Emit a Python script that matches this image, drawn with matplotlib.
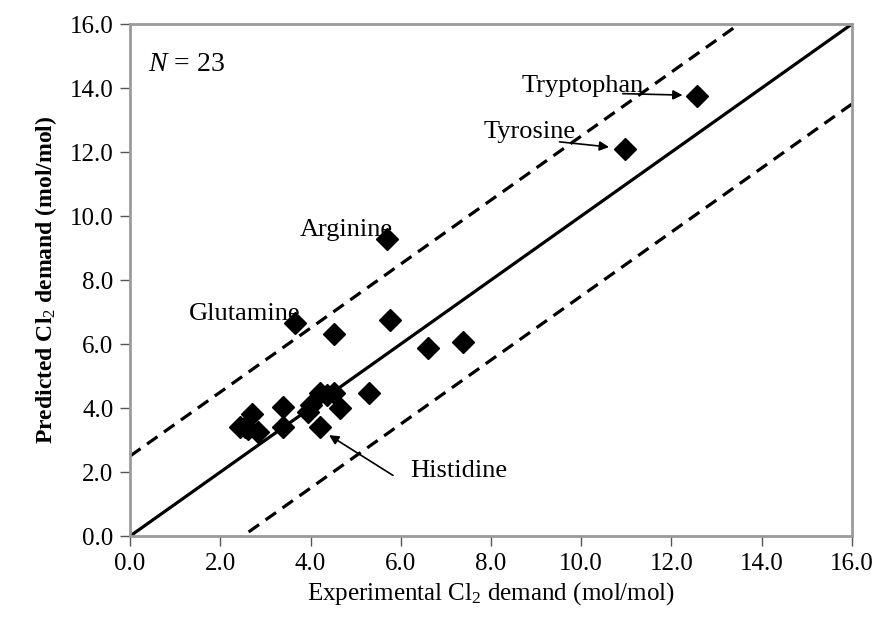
import matplotlib
matplotlib.use("Agg")
import matplotlib.pyplot as plt
import numpy as np

plt.rcParams['font.family'] = ['Liberation Serif', 'DejaVu Serif']
plt.rcParams['mathtext.fontset'] = 'custom'
plt.rcParams['mathtext.rm'] = 'Liberation Serif'
plt.rcParams['mathtext.it'] = 'Liberation Serif:italic'
plt.rcParams['mathtext.bf'] = 'Liberation Serif:bold'

# Experimental vs predicted Cl2 demand (mol/mol)
experimental = [2.44, 2.55, 2.62, 2.70, 2.84, 3.40, 3.40, 3.95, 4.02, 4.21, 4.51,
                4.21, 4.66, 5.30, 3.66, 4.51, 5.76, 6.61, 7.39, 5.69, 10.98, 12.56, 4.36]
predicted = [3.42, 3.40, 3.35, 3.83, 3.26, 4.04, 3.42, 3.88, 4.10, 4.46, 4.46,
             3.42, 3.99, 4.46, 6.65, 6.33, 6.75, 5.87, 6.07, 9.30, 12.10, 13.75, 4.40]
offset = 2.5
line_x = [0.0, 16.0]
ticks = [0, 2, 4, 6, 8, 10, 12, 14, 16]
tick_labels = [f"{t:.1f}" for t in ticks]

fig = plt.figure(figsize=(8.79, 6.19), dpi=100)
ax = fig.add_axes([0.148, 0.134, 0.821, 0.827])

lx = np.array(line_x)
ax.plot(lx, lx, color='black', lw=2.3, solid_capstyle='butt', zorder=2)
ax.plot(lx, lx + offset, color='black', lw=2.3, linestyle=(0, (4, 2.5)), zorder=2)
ax.plot(lx, lx - offset, color='black', lw=2.3, linestyle=(0, (4, 2.5)), zorder=2)
ax.plot(experimental, predicted, linestyle='none', marker='D', color='black',
        markersize=11, zorder=3)

ax.set_xlim(0, 16)
ax.set_ylim(0, 16)
ax.set_xticks(ticks)
ax.set_yticks(ticks)
ax.set_xticklabels(tick_labels)
ax.set_yticklabels(tick_labels)
ax.tick_params(labelsize=18, direction='out', length=7, width=1, color='#555555', pad=5)
for s in ax.spines.values():
    s.set_color('#9a9a9a')
    s.set_linewidth(2)

ax.set_xlabel(r'Experimental Cl$_2$ demand (mol/mol)', fontsize=18, labelpad=4)
ax.set_ylabel(r'Predicted Cl$_2$ demand (mol/mol)', fontsize=17, fontweight='bold', labelpad=8)

ax.text(0.4, 14.53, r'$N$ = 23', fontsize=20, ha='left', va='baseline')

fs = 19
ax.text(3.77, 9.375, 'Arginine', fontsize=fs, ha='left', va='baseline')
ax.text(3.77, 6.75, 'Glutamine', fontsize=fs, ha='right', va='baseline')

arrowprops = dict(arrowstyle='-|>', color='black', lw=1.2, mutation_scale=14)
ax.text(8.67, 13.88, 'Tryptophan', fontsize=fs, ha='left', va='baseline')
ax.annotate('', xy=(12.31, 13.78), xytext=(10.86, 13.83), arrowprops=arrowprops)
ax.text(9.87, 12.43, 'Tyrosine', fontsize=fs, ha='right', va='baseline')
ax.annotate('', xy=(10.68, 12.15), xytext=(9.46, 12.33), arrowprops=arrowprops)
ax.annotate('', xy=(4.36, 3.2), xytext=(5.88, 1.85), arrowprops=arrowprops)
ax.text(6.2, 1.85, 'Histidine', fontsize=fs, ha='left', va='baseline')

fig.savefig('out.png', dpi=100)
